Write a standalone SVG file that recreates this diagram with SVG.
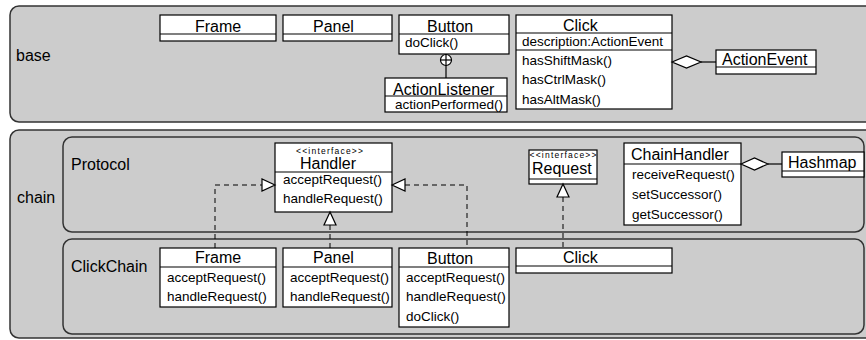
<svg xmlns="http://www.w3.org/2000/svg" width="866" height="340" viewBox="0 0 866 340">
  <style>
    .pkg { fill: #cccccc; stroke: #333333; stroke-width: 1.5; }
    .cls { fill: #ffffff; stroke: #000000; stroke-width: 1.2; }
    .div { stroke: #000000; stroke-width: 1.2; }
    text { font-family: "Liberation Sans", Arial, sans-serif; fill: #000000; }
    .pname { font-size: 16px; }
    .cname { font-size: 16px; }
    .op { font-size: 13.5px; }
    .st { font-size: 8.5px; }
    .dash { fill: none; stroke: #000000; stroke-width: 1; stroke-dasharray: 5 4; }
    .solid { fill: none; stroke: #000000; stroke-width: 1.2; }
    .tri { fill: #ffffff; stroke: #000000; stroke-width: 1.2; }
  </style>

  <!-- packages -->
  <g id="pkg-base">
    <rect class="pkg" x="10" y="6" width="870" height="116" rx="9"/>
    <text class="pname" x="16" y="61">base</text>
  </g>
  <g id="pkg-chain">
    <rect class="pkg" x="10" y="130" width="870" height="208" rx="9"/>
    <text class="pname" x="17" y="203">chain</text>
  </g>
  <g id="pkg-protocol">
    <rect class="pkg" x="63" y="137" width="801" height="95" rx="9"/>
    <text class="pname" x="71" y="170">Protocol</text>
  </g>
  <g id="pkg-clickchain">
    <rect class="pkg" x="63" y="239" width="801" height="95" rx="9"/>
    <text class="pname" x="71" y="272">ClickChain</text>
  </g>

  <!-- base classes -->
  <g id="base-frame">
    <rect class="cls" x="160" y="15" width="116" height="26"/>
    <line class="div" x1="160" y1="34" x2="276" y2="34"/>
    <text class="cname" x="195" y="32">Frame</text>
  </g>
  <g id="base-panel">
    <rect class="cls" x="283" y="15" width="109" height="26"/>
    <line class="div" x1="283" y1="34" x2="392" y2="34"/>
    <text class="cname" x="313" y="32">Panel</text>
  </g>
  <g id="base-button">
    <rect class="cls" x="399" y="15" width="110" height="39"/>
    <line class="div" x1="399" y1="34" x2="509" y2="34"/>
    <text class="cname" x="427" y="32">Button</text>
    <text class="op" x="405" y="47">doClick()</text>
  </g>
  <g id="base-actionlistener">
    <rect class="cls" x="385" y="78" width="122" height="34"/>
    <line class="div" x1="385" y1="96" x2="507" y2="96"/>
    <text class="cname" x="393" y="95">ActionListener</text>
    <text class="op" x="395" y="109">actionPerformed()</text>
  </g>
  <g id="base-click">
    <rect class="cls" x="516" y="15" width="156" height="94"/>
    <line class="div" x1="516" y1="33" x2="672" y2="33"/>
    <line class="div" x1="516" y1="50" x2="672" y2="50"/>
    <text class="cname" x="563" y="31">Click</text>
    <text class="op" x="522" y="46">description:ActionEvent</text>
    <text class="op" x="522" y="65">hasShiftMask()</text>
    <text class="op" x="522" y="84">hasCtrlMask()</text>
    <text class="op" x="522" y="104">hasAltMask()</text>
  </g>
  <g id="base-actionevent">
    <rect class="cls" x="716" y="50" width="100" height="24"/>
    <line class="div" x1="716" y1="67" x2="816" y2="67"/>
    <text class="cname" x="722" y="65">ActionEvent</text>
  </g>

  <!-- Protocol classes -->
  <g id="protocol-handler">
    <rect class="cls" x="275" y="143" width="117" height="69"/>
    <line class="div" x1="275" y1="172" x2="392" y2="172"/>
    <text class="st" x="296" y="153.5" textLength="67" lengthAdjust="spacing">&lt;&lt;interface&gt;&gt;</text>
    <text class="cname" x="300" y="169">Handler</text>
    <text class="op" x="283" y="184">acceptRequest()</text>
    <text class="op" x="283" y="203">handleRequest()</text>
  </g>
  <g id="protocol-request">
    <rect class="cls" x="529" y="150" width="68" height="34"/>
    <line class="div" x1="529" y1="179" x2="597" y2="179"/>
    <text class="st" x="529.5" y="157.5" textLength="67" lengthAdjust="spacing">&lt;&lt;interface&gt;&gt;</text>
    <text class="cname" x="532" y="174">Request</text>
  </g>
  <g id="protocol-chainhandler">
    <rect class="cls" x="624" y="143" width="117" height="82"/>
    <line class="div" x1="624" y1="164" x2="741" y2="164"/>
    <text class="cname" x="631" y="160">ChainHandler</text>
    <text class="op" x="632" y="179">receiveRequest()</text>
    <text class="op" x="632" y="199">setSuccessor()</text>
    <text class="op" x="632" y="219">getSuccessor()</text>
  </g>
  <g id="protocol-hashmap">
    <rect class="cls" x="782" y="152" width="82" height="25"/>
    <line class="div" x1="782" y1="171" x2="864" y2="171"/>
    <text class="cname" x="788" y="168">Hashmap</text>
  </g>

  <!-- ClickChain classes -->
  <g id="clickchain-frame">
    <rect class="cls" x="160" y="248" width="116" height="59"/>
    <line class="div" x1="160" y1="267" x2="276" y2="267"/>
    <text class="cname" x="195" y="263">Frame</text>
    <text class="op" x="167" y="282">acceptRequest()</text>
    <text class="op" x="167" y="301">handleRequest()</text>
  </g>
  <g id="clickchain-panel">
    <rect class="cls" x="283" y="248" width="109" height="59"/>
    <line class="div" x1="283" y1="267" x2="392" y2="267"/>
    <text class="cname" x="313" y="263">Panel</text>
    <text class="op" x="290" y="282">acceptRequest()</text>
    <text class="op" x="290" y="301">handleRequest()</text>
  </g>
  <g id="clickchain-button">
    <rect class="cls" x="399" y="248" width="110" height="79"/>
    <line class="div" x1="399" y1="267" x2="509" y2="267"/>
    <text class="cname" x="427" y="264">Button</text>
    <text class="op" x="406" y="282">acceptRequest()</text>
    <text class="op" x="406" y="301">handleRequest()</text>
    <text class="op" x="406" y="321">doClick()</text>
  </g>
  <g id="clickchain-click">
    <rect class="cls" x="516" y="248" width="156" height="25"/>
    <line class="div" x1="516" y1="266" x2="672" y2="266"/>
    <text class="cname" x="563" y="263">Click</text>
  </g>

  <!-- connectors -->
  <g id="connectors">
    <!-- nesting: ActionListener inside Button -->
    <line class="solid" x1="446" y1="54" x2="446" y2="78"/>
    <circle class="tri" cx="446" cy="60" r="5.5"/>
    <line class="solid" x1="440.5" y1="60" x2="451.5" y2="60"/>
    <line class="solid" x1="446" y1="54.5" x2="446" y2="65.5"/>

    <!-- composition: Click holds ActionEvent -->
    <polygon class="tri" points="672,62 686.5,56 701,62 686.5,68"/>
    <line class="solid" x1="701" y1="62" x2="716" y2="62" stroke-width="1.6"/>

    <!-- composition: ChainHandler holds Hashmap -->
    <polygon class="tri" points="741,164 754.5,158 768,164 754.5,170"/>
    <line class="solid" x1="768" y1="164" x2="782" y2="164" stroke-width="1.8"/>

    <!-- realizations of Handler -->
    <polyline class="dash" points="215,248 215,185 262,185"/>
    <polygon class="tri" points="275,185 262,179 262,191"/>
    <polyline class="dash" points="405,185 467,185 467,248"/>
    <polygon class="tri" points="392,185 405,179 405,191"/>
    <line class="dash" x1="330" y1="225" x2="330" y2="248"/>
    <polygon class="tri" points="330,212 324,225 336,225"/>

    <!-- realization of Request -->
    <line class="dash" x1="563" y1="197" x2="563" y2="248"/>
    <polygon class="tri" points="563,184 557,197 569,197"/>
  </g>
</svg>
